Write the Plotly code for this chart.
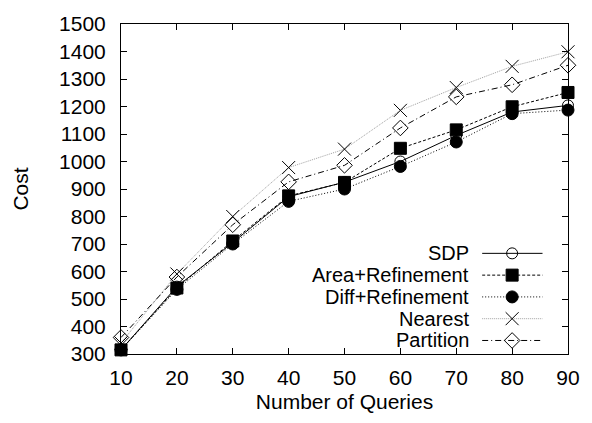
import plotly.graph_objects as go

queries = [10, 20, 30, 40, 50, 60, 70, 80, 90]
sdp = [315, 545, 705, 872, 925, 1000, 1095, 1180, 1204]
area_ref = [315, 540, 711, 875, 924, 1048, 1115, 1199, 1251]
diff_ref = [315, 535, 700, 855, 900, 982, 1071, 1174, 1187]
nearest = [340, 591, 800, 978, 1045, 1186, 1269, 1346, 1399]
partition = [360, 580, 770, 926, 986, 1122, 1235, 1279, 1350]

series_names = ["SDP", "Area+Refinement", "Diff+Refinement", "Nearest", "Partition"]
series_vals = [sdp, area_ref, diff_ref, nearest, partition]

styles = [
    dict(color="black", dash="solid", symbol="circle-open", size=11, lw=1),
    dict(color="black", dash="3px,2px", symbol="square", size=12, lw=1),
    dict(color="black", dash="1px,2px", symbol="circle", size=12, lw=1),
    dict(color="#a0a0a0", dash="1px,1px", symbol="x-thin-open", size=13, lw=1),
    dict(color="black", dash="6px,3px,1px,3px", symbol="diamond-open", size=12, lw=1),
]

FONT = "Liberation Sans, Arial, sans-serif"
FS = 21
KFS = 20
fig = go.Figure()

for name, vals, st in zip(series_names, series_vals, styles):
    fig.add_trace(go.Scatter(
        x=queries, y=vals, name=name, mode="lines+markers",
        line=dict(color=st["color"], width=st["lw"], dash=st["dash"]),
        marker=dict(symbol=st["symbol"], size=st["size"], color="black",
                    line=dict(color="black", width=1)),
        cliponaxis=False, showlegend=False,
    ))

# custom gnuplot-style key (text left, sample right) on an overlay axis in [0,1]
key_y = [0.305, 0.239, 0.173, 0.107, 0.041]
key_x0, key_x1, key_xm, key_text_x = 0.808, 0.943, 0.875, 0.780
for name, ky, st in zip(series_names, key_y, styles):
    fig.add_trace(go.Scatter(
        x=[key_x0, key_x1], y=[ky, ky], mode="lines", xaxis="x2", yaxis="y2",
        line=dict(color=st["color"], width=st["lw"], dash=st["dash"]),
        showlegend=False, hoverinfo="skip", cliponaxis=False,
    ))
    fig.add_trace(go.Scatter(
        x=[key_xm], y=[ky], mode="markers", xaxis="x2", yaxis="y2",
        marker=dict(symbol=st["symbol"], size=st["size"], color="black",
                    line=dict(color="black", width=1)),
        showlegend=False, hoverinfo="skip", cliponaxis=False,
    ))
    fig.add_annotation(x=key_text_x, y=ky, xref="paper", yref="paper",
                       text=name, showarrow=False, xanchor="right", yanchor="middle",
                       borderpad=0,
                       font=dict(family=FONT, size=KFS, color="black"))

axis_common = dict(showline=True, linecolor="black", linewidth=1, mirror="allticks",
                   ticks="inside", ticklen=6, tickcolor="black", tickwidth=1,
                   showgrid=False, zeroline=False,
                   tickfont=dict(family=FONT, size=FS, color="black"))

fig.update_layout(
    width=592, height=423,
    margin=dict(l=121, r=17, t=16, b=69),
    paper_bgcolor="white", plot_bgcolor="white",
    font=dict(family=FONT, size=FS, color="black"),
    xaxis=dict(range=[10, 90], tickvals=queries, ticklabelstandoff=5,
               title=dict(text="Number of Queries", standoff=6,
                          font=dict(family=FONT, size=FS)),
               **axis_common),
    yaxis=dict(range=[300, 1500], tickvals=list(range(300, 1501, 100)),
               ticklabelstandoff=10,
               title=dict(text="Cost", standoff=24, font=dict(family=FONT, size=FS)),
               **axis_common),
    xaxis2=dict(range=[0, 1], overlaying="x", visible=False),
    yaxis2=dict(range=[0, 1], overlaying="y", visible=False),
)

fig.write_html("out.html")
